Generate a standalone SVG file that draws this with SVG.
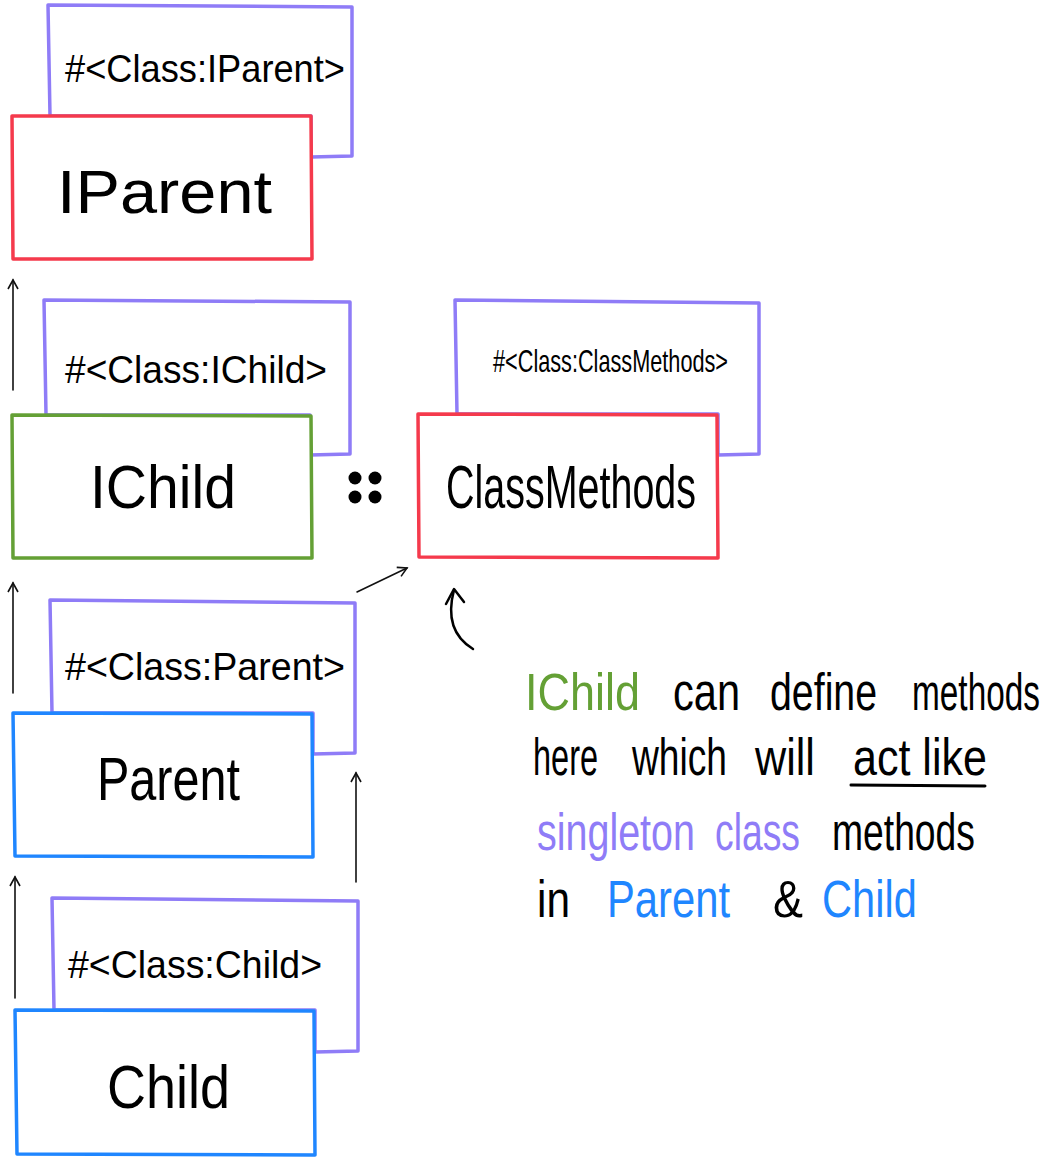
<svg xmlns="http://www.w3.org/2000/svg" width="1064" height="1158" viewBox="0 0 1064 1158">
<style>
.meta{fill:#fff;stroke:#8f7cf7;stroke-width:3.5;stroke-linejoin:round}
.red{fill:#fff;stroke:#f53a4c;stroke-width:3.5;stroke-linejoin:round}
.green{fill:#fff;stroke:#64a035;stroke-width:3.5;stroke-linejoin:round}
.blue{fill:#fff;stroke:#1f86ff;stroke-width:3.5;stroke-linejoin:round}
text{font-family:"Liberation Sans","DejaVu Sans",sans-serif;fill:#000}
.lbl{font-size:39px}
.big{font-size:62px}
.note{font-size:52px}
.g{fill:#64a035}.p{fill:#8f7cf7}.b{fill:#1f86ff}
.arr{fill:none;stroke:#111;stroke-width:1.6;stroke-linecap:round}
</style>
<defs>
<marker id="head" viewBox="0 0 12 12" refX="10" refY="6" markerWidth="12" markerHeight="12" markerUnits="userSpaceOnUse" orient="auto">
<path d="M1,1 L10,6 L1,11" fill="none" stroke="#111" stroke-width="1.6"/>
</marker>
</defs>

<g id="iparent">
<path class="meta" d="M48,5 L352,7 L352,156 L311,157 L311,116 L50,116 Z"/>
<path class="red" d="M12,116 L311,116 L312,259 L13,259 Z"/>
<text class="lbl" x="65" y="82" textLength="280" lengthAdjust="spacingAndGlyphs">#&lt;Class:IParent&gt;</text>
<text class="big" x="57" y="213" textLength="215" lengthAdjust="spacingAndGlyphs">IParent</text>
</g>

<g id="ichild">
<path class="meta" d="M44,300 L350,302 L350,454 L310,455 L310,415 L46,415 Z"/>
<path class="green" d="M12,415 L311,416 L312,558 L13,558 Z"/>
<text class="lbl" x="65" y="383" textLength="262" lengthAdjust="spacingAndGlyphs">#&lt;Class:IChild&gt;</text>
<text class="big" x="90" y="508" textLength="146" lengthAdjust="spacingAndGlyphs">IChild</text>
</g>

<g id="scope">
<circle cx="355" cy="478" r="6.5"/>
<circle cx="375" cy="478" r="6.5"/>
<circle cx="355" cy="497" r="6.5"/>
<circle cx="375" cy="497" r="6.5"/>
</g>

<g id="classmethods">
<path class="meta" d="M455,300 L759,303 L759,454 L718,455 L718,414 L457,414 Z"/>
<path class="red" d="M418,414 L717,415 L718,558 L419,557 Z"/>
<text x="493" y="372" style="font-size:32px" textLength="235" lengthAdjust="spacingAndGlyphs">#&lt;Class:ClassMethods&gt;</text>
<text class="big" x="446" y="508" textLength="250" lengthAdjust="spacingAndGlyphs">ClassMethods</text>
</g>

<g id="parent">
<path class="meta" d="M50,600 L355,603 L355,753 L313,754 L313,713 L52,713 Z"/>
<path class="blue" d="M13,713 L312,714 L313,857 L15,856 Z"/>
<text class="lbl" x="65" y="680" textLength="280" lengthAdjust="spacingAndGlyphs">#&lt;Class:Parent&gt;</text>
<text class="big" x="97" y="800" textLength="143" lengthAdjust="spacingAndGlyphs">Parent</text>
</g>

<g id="child">
<path class="meta" d="M52,898 L358,901 L358,1051 L315,1052 L315,1010 L54,1010 Z"/>
<path class="blue" d="M15,1010 L314,1011 L315,1155 L17,1154 Z"/>
<text class="lbl" x="68" y="978" textLength="254" lengthAdjust="spacingAndGlyphs">#&lt;Class:Child&gt;</text>
<text class="big" x="107" y="1108" textLength="123" lengthAdjust="spacingAndGlyphs">Child</text>
</g>

<g id="connectors">
<path class="arr" d="M13,390 L13,280" marker-end="url(#head)"/>
<path class="arr" d="M13,693 L13,583" marker-end="url(#head)"/>
<path class="arr" d="M15,998 L15,877" marker-end="url(#head)"/>
<path class="arr" d="M356,882 L356,773" marker-end="url(#head)"/>
<path class="arr" d="M357,592 L407,568" marker-end="url(#head)"/>
<path d="M473,649 C455,638 446,620 454,590" fill="none" stroke="#000" stroke-width="2.5" stroke-linecap="round"/>
<path d="M446,604 L454,589 L464,602" fill="none" stroke="#000" stroke-width="2.5" stroke-linecap="round" stroke-linejoin="round"/>
</g>

<g id="note">
<text class="note g" transform="translate(525,710) scale(0.865,1)">IChild</text>
<text class="note" transform="translate(673,710) scale(0.8,1)">can</text>
<text class="note" transform="translate(770,710) scale(0.756,1)">define</text>
<text class="note" transform="translate(912,710) scale(0.642,1)">methods</text>
<text class="note" transform="translate(533,775) scale(0.625,1)">here</text>
<text class="note" transform="translate(632,775) scale(0.715,1)">which</text>
<text class="note" transform="translate(755,775) scale(0.83,1)">will</text>
<text class="note" transform="translate(853,775) scale(0.828,1)">act like</text>
<path d="M851,785 L985,786" stroke="#000" stroke-width="3" stroke-linecap="round"/>
<text class="note p" transform="translate(537,850) scale(0.759,1)">singleton</text>
<text class="note p" transform="translate(715,850) scale(0.717,1)">class</text>
<text class="note" transform="translate(832,850) scale(0.717,1)">methods</text>
<text class="note" transform="translate(537,917) scale(0.815,1)">in</text>
<text class="note b" transform="translate(607,917) scale(0.803,1)">Parent</text>
<text class="note" transform="translate(773,917) scale(0.865,1)">&amp;</text>
<text class="note b" transform="translate(822,917) scale(0.8,1)">Child</text>
</g>
</svg>
